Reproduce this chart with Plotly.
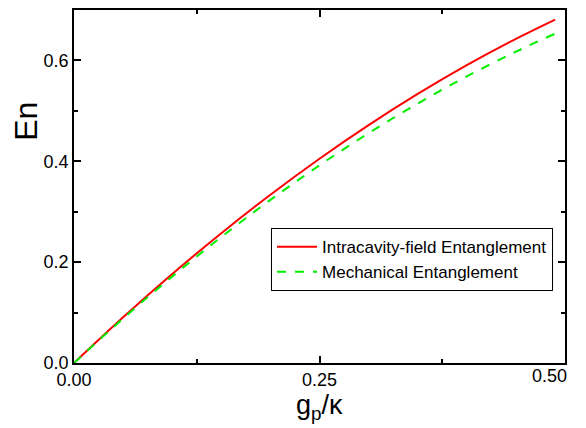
import plotly.graph_objects as go

# data
g_ratio = [0.0, 0.05, 0.10, 0.15, 0.20, 0.25, 0.30, 0.35, 0.40, 0.45, 0.49]
en_field = [0.0, 0.0906, 0.1764, 0.2574, 0.3336, 0.4051, 0.4717, 0.5335, 0.5906, 0.6428, 0.6811]
en_mech = [0.0, 0.0882, 0.1715, 0.2499, 0.3234, 0.3920, 0.4557, 0.5145, 0.5684, 0.6174, 0.6531]

x_ticks = [0.0, 0.25, 0.5]
x_ticklabels = ["0.00", "0.25", "0.50"]
y_ticks = [0.0, 0.2, 0.4, 0.6]
y_ticklabels = ["0.0", "0.2", "0.4", "0.6"]

fig = go.Figure()
fig.add_trace(go.Scatter(x=g_ratio, y=en_field, mode="lines", name="Intracavity-field Entanglement",
                         line=dict(color="#ff0000", width=2, shape="spline")))
fig.add_trace(go.Scatter(x=g_ratio, y=en_mech, mode="lines", name="Mechanical Entanglement",
                         line=dict(color="#00ee00", width=2, dash="dash", shape="spline")))

font_family = "Liberation Sans, Arial, sans-serif"
tick_font = dict(family=font_family, size=18, color="black")
axis_common = dict(
    showline=True, linecolor="black", linewidth=1.5, mirror="ticks",
    ticks="inside", ticklen=7, tickwidth=1.5, tickcolor="black",
    showgrid=False, zeroline=False, automargin=False,
    tickfont=tick_font,
)

# last x label is drawn kept inside the frame (as in the reference), so it's an annotation
fig.update_xaxes(range=[0, 0.5], tickvals=x_ticks, ticktext=x_ticklabels[:-1] + [""],
                 minor=dict(ticks="inside", ticklen=4, tickwidth=1.5, tickcolor="black",
                            tickvals=[0.125, 0.375]),
                 **axis_common)
fig.add_annotation(text=x_ticklabels[-1], xref="x", x=x_ticks[-1], yref="paper", y=0,
                   xanchor="right", yanchor="top", xshift=4, yshift=-1, showarrow=False,
                   font=tick_font)

fig.update_yaxes(range=[0, 0.7], tickvals=y_ticks, ticktext=y_ticklabels,
                 minor=dict(ticks="inside", ticklen=4, tickwidth=1.5, tickcolor="black",
                            tickvals=[0.1, 0.3, 0.5]),
                 **axis_common)

fig.add_annotation(text="En", xref="paper", yref="paper", x=-0.098, y=0.686,
                   textangle=-90, showarrow=False, xanchor="center", yanchor="middle",
                   font=dict(family=font_family, size=32, color="black"))
fig.add_annotation(text="g<sub>p</sub>/κ", xref="paper", yref="paper", x=0.5, y=-0.125,
                   showarrow=False, xanchor="center", yanchor="middle",
                   font=dict(family=font_family, size=27, color="black"))

# page body has an 8px margin, so the figure is sized to fit the window from (8, 8)
fig.update_layout(
    width=578, height=420,
    margin=dict(l=66, r=21, t=2, b=65, autoexpand=False),
    paper_bgcolor="white", plot_bgcolor="white",
    showlegend=True,
    legend=dict(x=0.9756, y=0.382, xanchor="right", yanchor="top",
                bgcolor="white", bordercolor="black", borderwidth=1,
                font=dict(family=font_family, size=17, color="black"),
                tracegroupgap=0, itemwidth=40),
)

fig.write_html("out.html")
